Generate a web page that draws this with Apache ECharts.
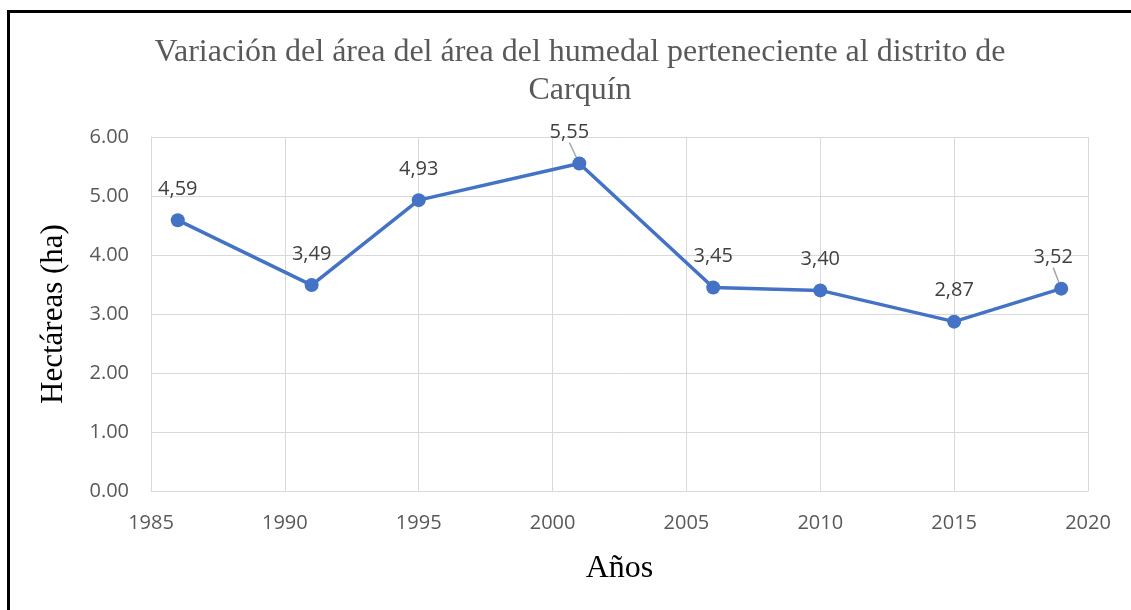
<!DOCTYPE html>
<html>
<head>
<meta charset="utf-8">
<title>Humedal Carquín</title>
<script src="https://cdn.jsdelivr.net/npm/echarts@6/dist/echarts.min.js"></script>
<style>
    html, body {
        margin: 0;
        padding: 0;
        background: #fff;
    }
    .wrap {
        position: relative;
        width: 1131px;
        height: 610px;
        overflow: hidden;
    }
    #chart {
        width: 1131px;
        height: 610px;
    }
    .frame {
        position: absolute;
        left: 7px;
        top: 10px;
        width: 1200px;
        height: 700px;
        border-left: 3px solid #000;
        border-top: 3px solid #000;
        pointer-events: none;
    }
</style>
</head>
<body>
<div class="wrap">
    <div id="chart"></div>
    <div class="frame"></div>
</div>
<script>
    // datos
    const years = [1986, 1991, 1995, 2001, 2006, 2010, 2015, 2019]
    const hectares = [4.59, 3.49, 4.93, 5.55, 3.45, 3.40, 2.87, 3.43]
    const labelTexts = ['4,59', '3,49', '4,93', '5,55', '3,45', '3,40', '2,87', '3,52']
    const xTicks = [1985, 1990, 1995, 2000, 2005, 2010, 2015, 2020]
    const yTicks = [0, 1, 2, 3, 4, 5, 6]

    const serif = '"Liberation Serif", "DejaVu Serif", serif'
    const sans = '"Open Sans", "Noto Sans", sans-serif'
    const gridColor = '#d9d9d9'

    let chart = echarts.init(document.getElementById('chart'), null, {renderer: 'canvas'})

    // etiquetas desplazadas con línea guía (5,55 y 3,52)
    const shifted = {3: -10, 7: -8}

    let points = years.map((y, i) => {
        let item = {value: [y, hectares[i]]}
        if (shifted[i] !== undefined) {
            item.labelLine = {show: true}
        }
        return item
    })

    chart.setOption({
        animation: false,
        title: {
            text: 'Variación del área del área del humedal perteneciente al distrito de\nCarquín',
            left: 575,
            top: 29,
            textAlign: 'center',
            textStyle: {
                fontFamily: serif,
                fontSize: 32,
                fontWeight: 'normal',
                color: '#595959',
                lineHeight: 38
            }
        },
        grid: {
            left: 151,
            right: 43,
            top: 137,
            bottom: 119,
            containLabel: false
        },
        xAxis: {
            type: 'value',
            min: xTicks[0],
            max: xTicks[xTicks.length - 1],
            interval: 5,
            name: 'Años',
            nameLocation: 'middle',
            nameGap: 62,
            nameTextStyle: {
                fontFamily: serif,
                fontSize: 32,
                color: '#000'
            },
            axisLine: {show: true, lineStyle: {color: gridColor, width: 1}},
            axisTick: {show: false},
            axisLabel: {
                margin: 22,
                fontFamily: sans,
                fontSize: 20,
                color: '#595959',
                formatter: v => String(v)
            },
            splitLine: {show: true, lineStyle: {color: gridColor, width: 1}}
        },
        yAxis: {
            type: 'value',
            min: yTicks[0],
            max: yTicks[yTicks.length - 1],
            interval: 1,
            name: 'Hectáreas (ha)',
            nameLocation: 'middle',
            nameGap: 82,
            nameTextStyle: {
                fontFamily: serif,
                fontSize: 31,
                color: '#000'
            },
            axisLine: {show: true, lineStyle: {color: gridColor, width: 1}},
            axisTick: {show: false},
            axisLabel: {
                margin: 22,
                fontFamily: sans,
                fontSize: 20,
                color: '#595959',
                formatter: v => v.toFixed(2)
            },
            splitLine: {show: true, lineStyle: {color: gridColor, width: 1}}
        },
        series: [
            {
                name: 'Hectáreas',
                type: 'line',
                data: points,
                symbol: 'circle',
                symbolSize: 14,
                itemStyle: {color: '#4472C4'},
                lineStyle: {color: '#4472C4', width: 3.5},
                label: {
                    show: true,
                    position: 'top',
                    distance: 14,
                    fontFamily: sans,
                    fontSize: 20,
                    color: '#404040',
                    formatter: p => labelTexts[p.dataIndex]
                },
                labelLine: {
                    show: false,
                    lineStyle: {color: '#a6a6a6', width: 1.5}
                },
                labelLayout: p => {
                    if (shifted[p.dataIndex] !== undefined) {
                        return {dx: shifted[p.dataIndex], dy: 0}
                    }
                    return {}
                }
            }
        ]
    })

    window.onresize = function () {
        chart.resize()
    }
</script>
</body>
</html>
